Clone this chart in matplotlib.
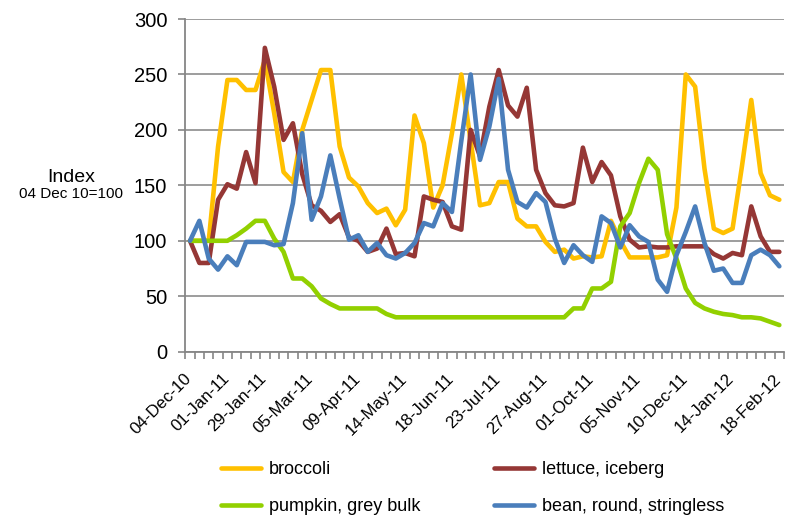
import numpy as np
import pandas as pd
import matplotlib
matplotlib.use("Agg")
import matplotlib.pyplot as plt
import matplotlib.transforms as mtransforms

plt.rcParams['font.family'] = ['Liberation Sans', 'DejaVu Sans']

# ---- data ----
dates = pd.date_range('2010-12-04', periods=64, freq='7D')
categories = [d.strftime('%d-%b-%y') for d in dates]
tick_labels = ['04-Dec-10', '01-Jan-11', '29-Jan-11', '05-Mar-11', '09-Apr-11',
               '14-May-11', '18-Jun-11', '23-Jul-11', '27-Aug-11', '01-Oct-11',
               '05-Nov-11', '10-Dec-11', '14-Jan-12', '18-Feb-12']

broccoli = [100, 100, 100, 185, 245, 245, 236, 236,
            263, 215, 162, 153, 200, 227, 254, 254,
            185, 157, 149, 134, 125, 129, 114, 128,
            213, 188, 130, 150, 197, 250, 190, 132,
            134, 153, 153, 120, 113, 113, 99, 90,
            92, 84, 86, 85, 86, 118, 100, 85,
            85, 85, 85, 87, 130, 250, 239, 165,
            111, 107, 111, 167, 227, 161, 141, 137]

lettuce = [100, 80, 80, 137, 151, 147, 180, 152,
           274, 239, 191, 206, 160, 132, 127, 117,
           124, 103, 100, 90, 93, 111, 88, 89,
           86, 140, 137, 135, 113, 110, 200, 176,
           221, 254, 222, 212, 238, 164, 143, 132,
           131, 134, 184, 153, 171, 159, 122, 101,
           94, 95, 94, 94, 95, 95, 95, 95,
           88, 84, 89, 87, 131, 104, 90, 90]

pumpkin = [100, 100, 100, 100, 100, 105, 111, 118,
           118, 102, 90, 66, 66, 59, 48, 43,
           39, 39, 39, 39, 39, 34, 31, 31,
           31, 31, 31, 31, 31, 31, 31, 31,
           31, 31, 31, 31, 31, 31, 31, 31,
           31, 39, 39, 57, 57, 63, 113, 125,
           152, 174, 164, 106, 84, 57, 44, 39,
           36, 34, 33, 31, 31, 30, 27, 24]

bean = [100, 118, 84, 74, 86, 78, 99, 99,
        99, 96, 97, 134, 197, 119, 140, 177,
        138, 101, 105, 90, 98, 87, 84, 89,
        98, 116, 113, 134, 126, 190, 250, 173,
        203, 246, 164, 135, 130, 143, 135, 102,
        80, 96, 87, 81, 122, 116, 94, 114,
        104, 99, 65, 54, 87, 108, 131, 98,
        73, 75, 62, 62, 87, 92, 87, 77]

series_names = ['broccoli', 'lettuce, iceberg', 'pumpkin, grey bulk', 'bean, round, stringless']
series_values = [broccoli, lettuce, pumpkin, bean]
colors = ['#FFC000', '#953735', '#92D000', '#4A7EBB']

# ---- figure ----
fig = plt.figure(figsize=(7.87, 5.21), dpi=100)
ax = fig.add_axes([0.2355, 0.3250, 0.7607, 0.6385])

x = np.arange(len(categories))
lines = []
for name, vals, c in zip(series_names, series_values, colors):
    ln, = ax.plot(x, vals, color=c, lw=3.3, solid_joinstyle='round',
                  solid_capstyle='round', label=name, zorder=3)
    lines.append(ln)

ax.set_xlim(-0.5, len(categories) - 0.5)
ax.set_ylim(0, 300)
ax.set_yticks(np.arange(0, 301, 50))
ax.yaxis.grid(True, color='#8C8C8C', lw=1.2)
ax.set_axisbelow(True)

for s in ['top', 'right']:
    ax.spines[s].set_visible(False)
for s in ['left', 'bottom']:
    ax.spines[s].set_color('#868686')
    ax.spines[s].set_linewidth(1.3)

ax.tick_params(axis='y', direction='out', length=5, width=1.2, color='#868686',
               labelsize=14.5, pad=8)

pos = [categories.index(t) for t in tick_labels]
ax.set_xticks(pos)
ax.set_xticklabels(tick_labels, rotation=45, ha='right', va='top',
                   rotation_mode='anchor', fontsize=12.2)
ax.tick_params(axis='x', which='major', length=0, pad=14)
ax.set_xticks(np.arange(-0.5, len(categories)), minor=True)
ax.tick_params(axis='x', which='minor', direction='out', length=5, width=1.2,
               color='#868686')
shift = mtransforms.ScaledTranslation(-6 / 100, 0, fig.dpi_scale_trans)
for lab in ax.get_xticklabels():
    lab.set_transform(lab.get_transform() + shift)

fig.text(71 / 787, 1 - 177 / 521, 'Index', ha='center', va='center', fontsize=14)
fig.text(71 / 787, 1 - 194 / 521, '04 Dec 10=100', ha='center', va='center', fontsize=11)

order = [0, 2, 1, 3]
fig.legend([lines[i] for i in order], [series_names[i] for i in order],
           loc='upper left', bbox_to_anchor=(221 / 787, 1 - 461 / 521),
           ncol=2, frameon=False, fontsize=13, handlelength=2.2,
           handletextpad=0.45, columnspacing=4.1, labelspacing=1.12,
           borderpad=0, borderaxespad=0)

fig.savefig('out.png', dpi=100)
